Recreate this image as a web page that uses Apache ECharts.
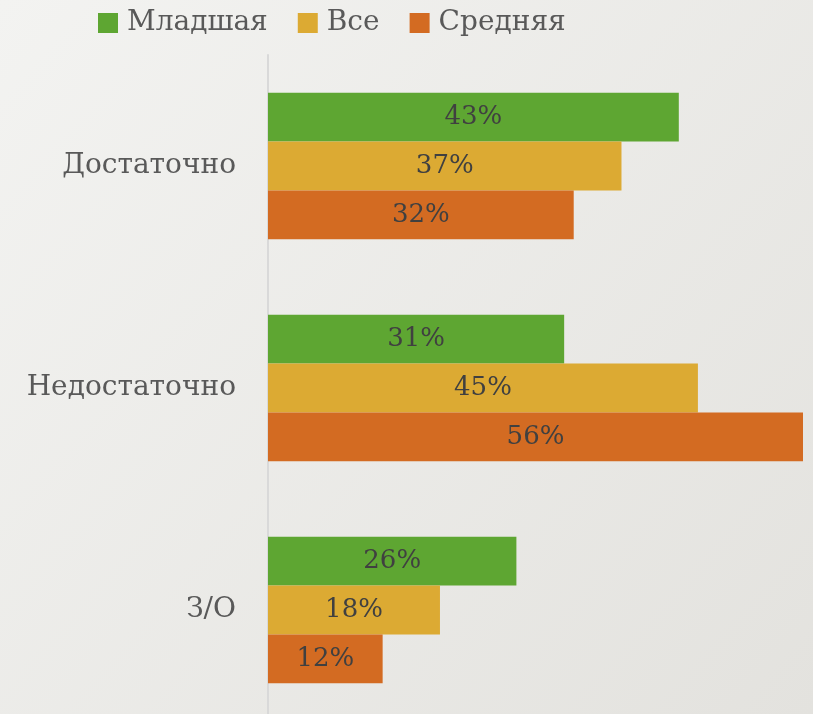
<!DOCTYPE html>
<html>
<head>
<meta charset="utf-8">
<script src="https://cdn.jsdelivr.net/npm/echarts@6/dist/echarts.min.js"></script>
<style>
  html, body { margin: 0; padding: 0; }
  #chart { width: 813px; height: 714px; }
</style>
</head>
<body>
<div id="chart"></div>
<script>
// категории и значения
var categories = ['Достаточно', 'Недостаточно', 'З/О']
var seriesNames = ['Младшая', 'Все', 'Средняя']
var mladshaya = [43, 31, 26]
var vse = [37, 45, 18]
var srednyaya = [32, 56, 12]
var colors = ['#5ea632', '#dcaa33', '#d36b22']

var chart = echarts.init(document.getElementById('chart'))
var font = 'DejaVu Serif'

function makeSeries (name, data, color) {
  return {
    name: name,
    type: 'bar',
    data: data,
    barGap: '0%',
    barCategoryGap: '34%',
    itemStyle: { color: color },
    label: {
      show: true,
      position: 'inside',
      formatter: '{c}%',
      color: '#404040',
      fontFamily: font,
      fontSize: 26
    },
    emphasis: { disabled: true }
  }
}

var option = {
  backgroundColor: new echarts.graphic.LinearGradient(0, 0, 1, 1, [
    { offset: 0, color: '#f3f3f1' },
    { offset: 1, color: '#e3e2de' }
  ]),
  animation: false,
  color: colors,
  legend: {
    top: 4,
    left: 93,
    itemWidth: 20,
    itemHeight: 20,
    itemGap: 30,
    icon: 'rect',
    textStyle: { fontFamily: font, fontSize: 28, color: '#595959', padding: [0, 0, 0, 4] },
    data: seriesNames
  },
  grid: {
    left: 268,
    right: 10,
    top: 55,
    height: 666,
    outerBoundsMode: 'none',
    containLabel: false
  },
  xAxis: {
    type: 'value',
    min: 0,
    max: 56,
    show: false
  },
  yAxis: {
    type: 'category',
    data: categories,
    inverse: true,
    axisTick: { show: false },
    axisLine: { show: true, lineStyle: { color: '#d9d9d9', width: 2 } },
    axisLabel: {
      margin: 32,
      fontFamily: font,
      fontSize: 28,
      color: '#595959'
    }
  },
  series: [
    makeSeries(seriesNames[0], mladshaya, colors[0]),
    makeSeries(seriesNames[1], vse, colors[1]),
    makeSeries(seriesNames[2], srednyaya, colors[2])
  ]
}
chart.setOption(option)
</script>
</body>
</html>
